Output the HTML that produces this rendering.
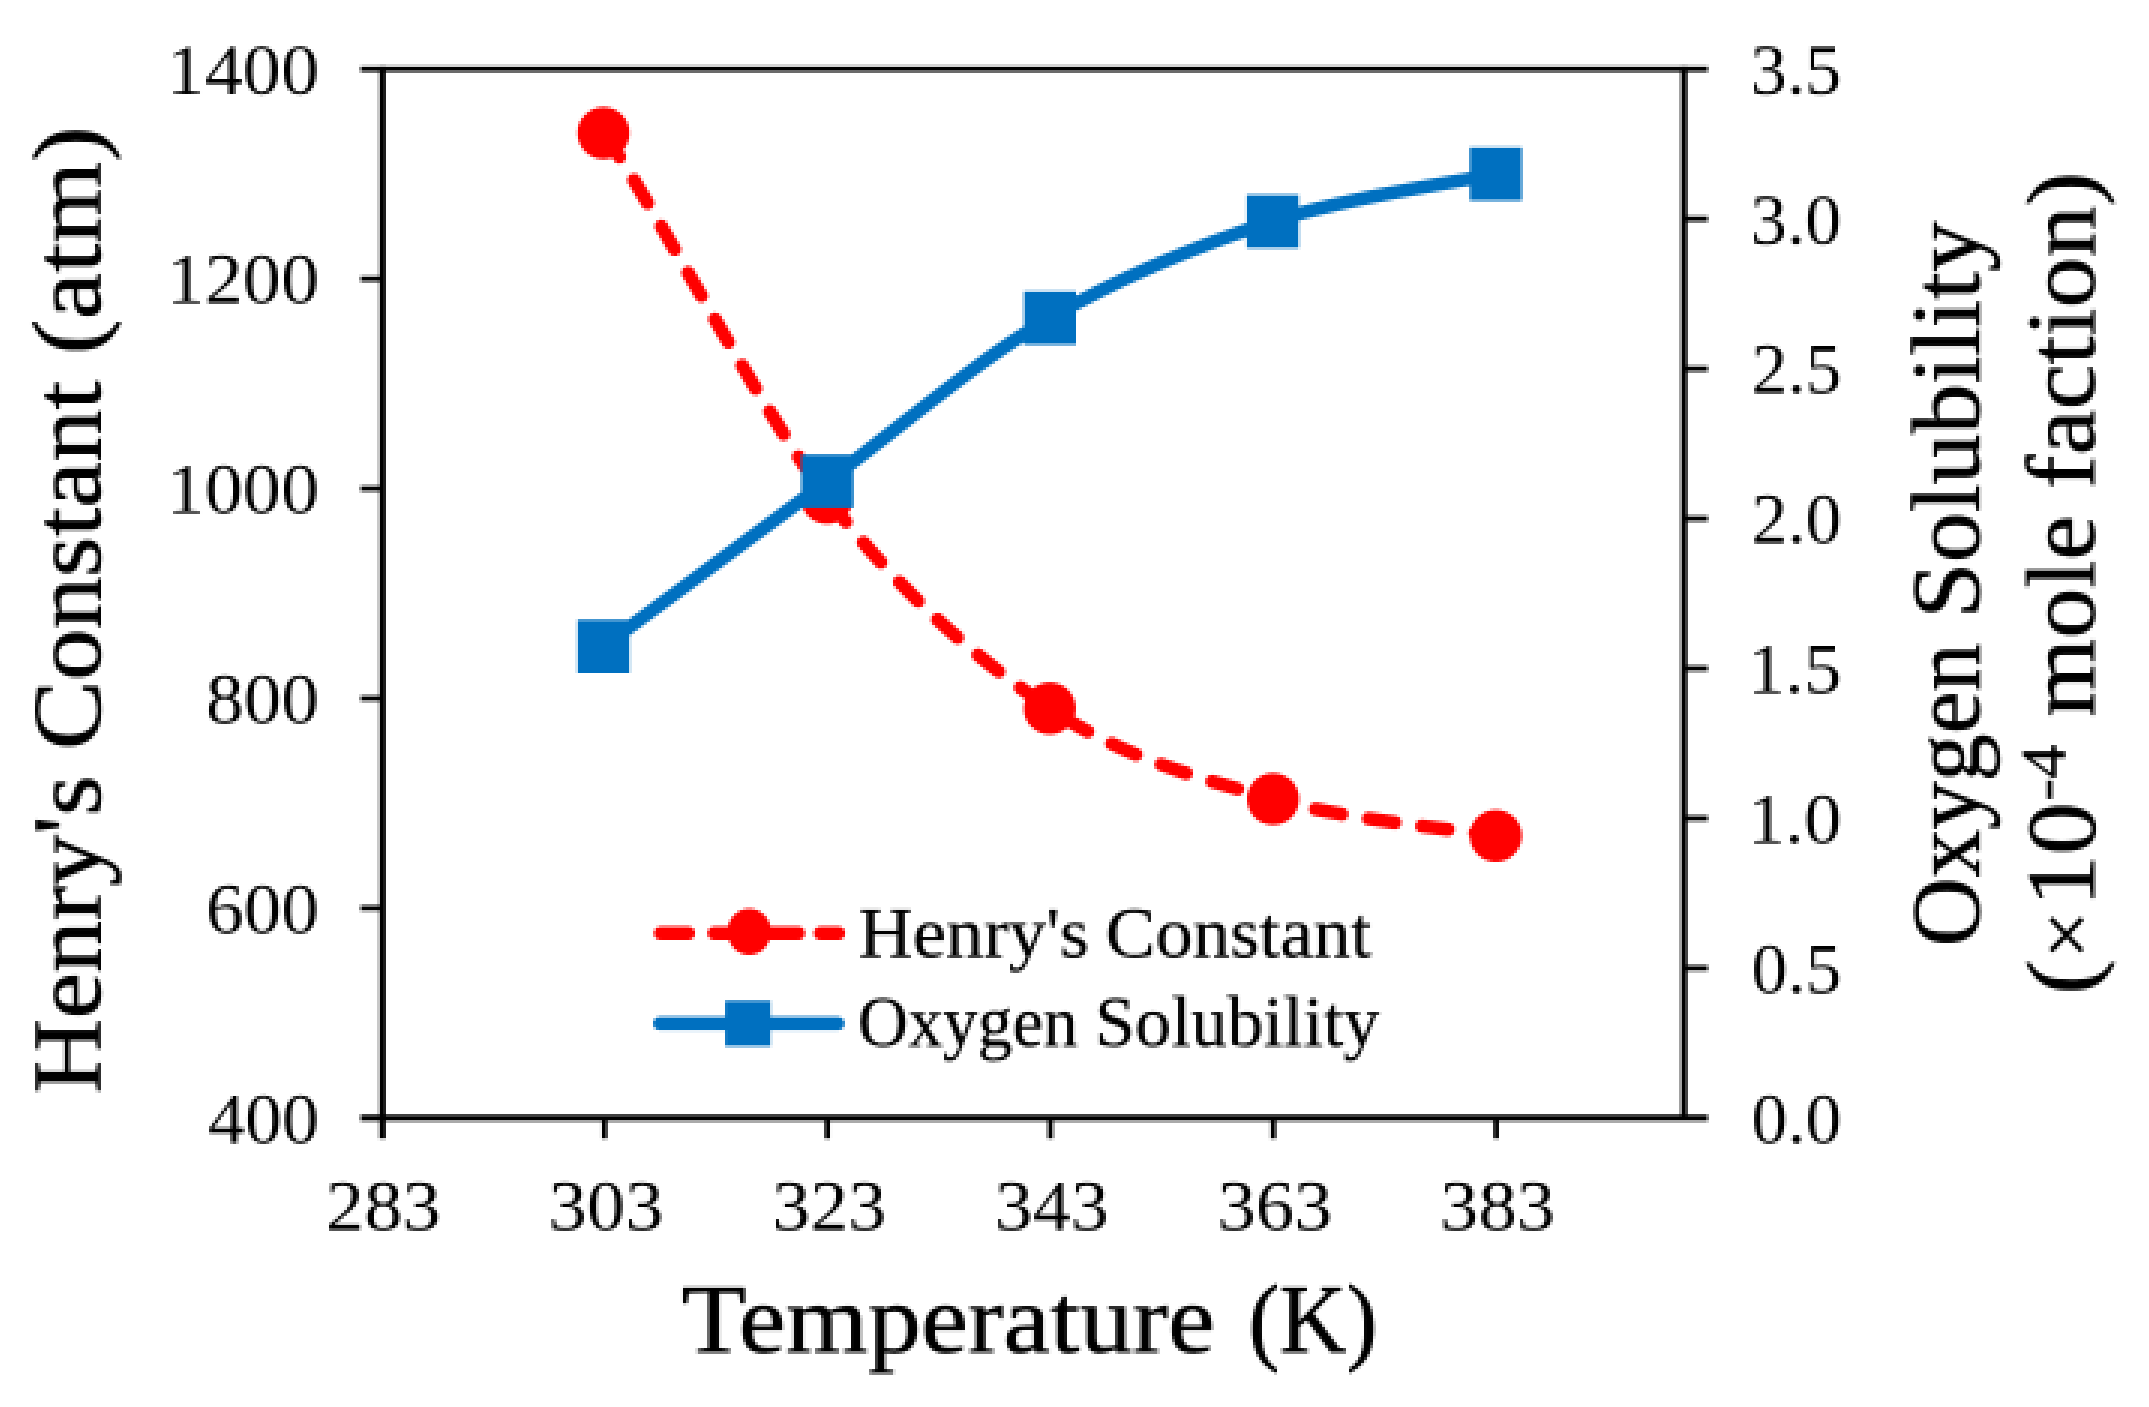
<!DOCTYPE html>
<html lang="en"><head><meta charset="utf-8"><title>Henry's Constant and Oxygen Solubility vs Temperature</title>
<style>
html,body{margin:0;padding:0;background:#fff;}
body{width:2149px;height:1407px;overflow:hidden;}
svg{display:block;}
text{font-family:"Liberation Serif","DejaVu Serif",serif;fill:#000;stroke-linejoin:round;}
.tick{font-size:72px;}
.leg{font-size:72px;stroke:#000;stroke-width:0.4px;}
.title{font-size:98px;stroke:#000;stroke-width:0.9px;}
.times{font-size:82px;stroke:#000;stroke-width:0.6px;}
.sup{font-size:63px;stroke:#000;stroke-width:0.5px;}
.ax{stroke:#000;stroke-width:5.5;fill:none;stroke-linecap:butt;}
</style></head><body>
<svg width="2149" height="1407" viewBox="0 0 2149 1407">
<defs><filter id="px" x="-1" y="-2" width="2154" height="1413" filterUnits="userSpaceOnUse" primitiveUnits="userSpaceOnUse" color-interpolation-filters="sRGB">
<feConvolveMatrix in="SourceGraphic" order="3" kernelMatrix="1 1 1 1 1 1 1 1 1" divisor="9" edgeMode="duplicate" preserveAlpha="false" result="avg"/>
<feFlood x="0" y="-1" width="1" height="1" flood-color="#000" result="dot"/>
<feOffset in="dot" dx="0" dy="0" x="-1" y="-2" width="3" height="3" result="cell"/>
<feTile in="cell" result="grid"/>
<feComposite in="avg" in2="grid" operator="in" result="samp"/>
<feMorphology in="samp" operator="dilate" radius="1"/>
</filter></defs>
<g id="chart">
<rect x="-5" y="-5" width="2160" height="1420" fill="#fff"/>
<g class="ax">
<path stroke-width="5.4" d="M360.6 69.1 H1707.8"/>
<path stroke-width="6.2" d="M360.6 1117.9 H1707.8"/>
<path stroke-width="6.3" d="M382.50 66.4 V1138.6"/>
<path stroke-width="6.3" d="M1684.05 66.4 V1121.0"/>
<path stroke-width="5.3" d="M360.6 278.9 H382.5"/>
<path stroke-width="5.3" d="M360.6 488.6 H382.5"/>
<path stroke-width="5.3" d="M360.6 698.4 H382.5"/>
<path stroke-width="5.3" d="M360.6 908.1 H382.5"/>
<path stroke-width="5.4" d="M1684.0 218.9 H1707.8"/>
<path stroke-width="5.4" d="M1684.0 368.8 H1707.8"/>
<path stroke-width="5.4" d="M1684.0 518.6 H1707.8"/>
<path stroke-width="5.4" d="M1684.0 668.4 H1707.8"/>
<path stroke-width="5.4" d="M1684.0 818.3 H1707.8"/>
<path stroke-width="5.4" d="M1684.0 968.1 H1707.8"/>
<path stroke-width="5.3" d="M604.5 1117.9 V1138.6"/>
<path stroke-width="5.3" d="M827.4 1117.9 V1138.6"/>
<path stroke-width="5.3" d="M1050.4 1117.9 V1138.6"/>
<path stroke-width="5.3" d="M1273.3 1117.9 V1138.6"/>
<path stroke-width="5.3" d="M1496.2 1117.9 V1138.6"/>
</g>
<text><tspan class="title" x="681.50" y="1352.00" textLength="533.50" lengthAdjust="spacingAndGlyphs">Temperature</tspan> <tspan class="title" x="1248.50" y="1352.00" textLength="129.00" lengthAdjust="spacingAndGlyphs">(K)</tspan></text>
<text transform="rotate(-90)"><tspan class="title" x="-1093.50" y="100.20" textLength="318.00" lengthAdjust="spacingAndGlyphs">Henry's</tspan> <tspan class="title" x="-750.00" y="100.20" textLength="369.00" lengthAdjust="spacingAndGlyphs">Constant</tspan> <tspan class="title" x="-354.50" y="100.20" textLength="228.00" lengthAdjust="spacingAndGlyphs">(atm)</tspan></text>
<text transform="rotate(-90)"><tspan class="title" x="-946.50" y="1978.80" textLength="303.00" lengthAdjust="spacingAndGlyphs">Oxygen</tspan> <tspan class="title" x="-618.50" y="1978.80" textLength="397.00" lengthAdjust="spacingAndGlyphs">Solubility</tspan></text>
<text transform="rotate(-90)"><tspan class="title" x="-994.50" y="2093.80" textLength="35.00" lengthAdjust="spacingAndGlyphs">(</tspan><tspan class="times" x="-959.00" y="2093.80" textLength="48.50" lengthAdjust="spacingAndGlyphs">×</tspan><tspan class="title" x="-907.00" y="2093.80" textLength="104.50" lengthAdjust="spacingAndGlyphs">10</tspan><tspan class="sup" x="-801.00" y="2064.60" textLength="56.50" lengthAdjust="spacingAndGlyphs">-4</tspan> <tspan class="title" x="-717.00" y="2093.80" textLength="201.50" lengthAdjust="spacingAndGlyphs">mole</tspan> <tspan class="title" x="-489.00" y="2093.80" textLength="317.00" lengthAdjust="spacingAndGlyphs">faction)</tspan></text>
<text><tspan class="leg" x="858.50" y="956.70" textLength="230.50" lengthAdjust="spacingAndGlyphs">Henry's</tspan> <tspan class="leg" x="1105.50" y="956.70" textLength="266.00" lengthAdjust="spacingAndGlyphs">Constant</tspan></text>
<text><tspan class="leg" x="858.00" y="1046.20" textLength="220.00" lengthAdjust="spacingAndGlyphs">Oxygen</tspan> <tspan class="leg" x="1095.00" y="1046.20" textLength="284.50" lengthAdjust="spacingAndGlyphs">Solubility</tspan></text>
<text class="tick" x="166.50" y="93.70" textLength="152.50" lengthAdjust="spacingAndGlyphs">1400</text>
<text class="tick" x="166.50" y="303.46" textLength="152.50" lengthAdjust="spacingAndGlyphs">1200</text>
<text class="tick" x="166.50" y="513.22" textLength="152.50" lengthAdjust="spacingAndGlyphs">1000</text>
<text class="tick" x="206.00" y="722.98" textLength="113.00" lengthAdjust="spacingAndGlyphs">800</text>
<text class="tick" x="206.00" y="932.74" textLength="113.00" lengthAdjust="spacingAndGlyphs">600</text>
<text class="tick" x="208.00" y="1142.50" textLength="111.00" lengthAdjust="spacingAndGlyphs">400</text>
<text class="tick" x="1750.50" y="93.70" textLength="91.00" lengthAdjust="spacingAndGlyphs">3.5</text>
<text class="tick" x="1750.50" y="243.53" textLength="91.00" lengthAdjust="spacingAndGlyphs">3.0</text>
<text class="tick" x="1751.50" y="393.36" textLength="90.00" lengthAdjust="spacingAndGlyphs">2.5</text>
<text class="tick" x="1751.50" y="543.19" textLength="90.00" lengthAdjust="spacingAndGlyphs">2.0</text>
<text class="tick" x="1747.50" y="693.02" textLength="94.00" lengthAdjust="spacingAndGlyphs">1.5</text>
<text class="tick" x="1747.50" y="842.85" textLength="94.00" lengthAdjust="spacingAndGlyphs">1.0</text>
<text class="tick" x="1751.50" y="992.68" textLength="90.00" lengthAdjust="spacingAndGlyphs">0.5</text>
<text class="tick" x="1751.50" y="1142.51" textLength="90.00" lengthAdjust="spacingAndGlyphs">0.0</text>
<text class="tick" x="325.85" y="1229.90" textLength="115.00" lengthAdjust="spacingAndGlyphs">283</text>
<text class="tick" x="548.50" y="1229.90" textLength="115.00" lengthAdjust="spacingAndGlyphs">303</text>
<text class="tick" x="772.15" y="1229.90" textLength="114.00" lengthAdjust="spacingAndGlyphs">323</text>
<text class="tick" x="994.80" y="1229.90" textLength="114.00" lengthAdjust="spacingAndGlyphs">343</text>
<text class="tick" x="1217.45" y="1229.90" textLength="115.00" lengthAdjust="spacingAndGlyphs">363</text>
<text class="tick" x="1440.10" y="1229.90" textLength="115.00" lengthAdjust="spacingAndGlyphs">383</text>
<path d="M603.5 133.1 C648.1 193.9 755.6 402.1 827.0 498.0 C901.4 593.9 975.4 658.2 1049.8 708.4 C1124.1 758.6 1198.8 777.8 1273.1 799.0 C1347.4 820.2 1458.7 829.6 1495.8 835.8" fill="none" stroke="#ff0000" stroke-width="13.5" stroke-linecap="round" stroke-dasharray="26.5 27.15" stroke-dashoffset="-2.5"/>
<circle cx="603.5" cy="133.1" r="26.1" fill="#ff0000"/>
<circle cx="827.0" cy="498.0" r="26.1" fill="#ff0000"/>
<circle cx="1049.8" cy="708.4" r="26.1" fill="#ff0000"/>
<circle cx="1273.1" cy="799.0" r="26.1" fill="#ff0000"/>
<circle cx="1495.8" cy="835.8" r="26.1" fill="#ff0000"/>
<path d="M603.5 646.4 C640.8 618.9 752.9 535.9 827.3 481.2 C901.7 426.5 975.8 361.3 1050.0 318.0 C1124.2 274.7 1198.4 245.4 1272.7 221.4 C1347.0 197.4 1458.6 181.9 1495.8 174.0" fill="none" stroke="#0070c0" stroke-width="13.5" stroke-linecap="round" stroke-linejoin="round"/>
<rect x="577.5" y="619.8" width="52" height="53.2" fill="#0070c0"/>
<rect x="801.3" y="454.6" width="52" height="53.2" fill="#0070c0"/>
<rect x="1024.0" y="291.4" width="52" height="53.2" fill="#0070c0"/>
<rect x="1246.7" y="194.8" width="52" height="53.2" fill="#0070c0"/>
<rect x="1469.8" y="147.4" width="52" height="53.2" fill="#0070c0"/>
<path d="M660.6 933.2 H688.4 M714.2 933.2 H798.4 M820.4 933.2 H838.5" fill="none" stroke="#ff0000" stroke-width="13.5" stroke-linecap="round"/>
<ellipse cx="749.2" cy="931.7" rx="21.8" ry="23.3" fill="#ff0000"/>
<path d="M659.8 1023.5 H837.9" fill="none" stroke="#0070c0" stroke-width="13.5" stroke-linecap="round"/>
<rect x="725.2" y="1000.8" width="45.3" height="45.4" fill="#0070c0"/>
</g>
<use href="#chart" filter="url(#px)"/>
</svg></body></html>
